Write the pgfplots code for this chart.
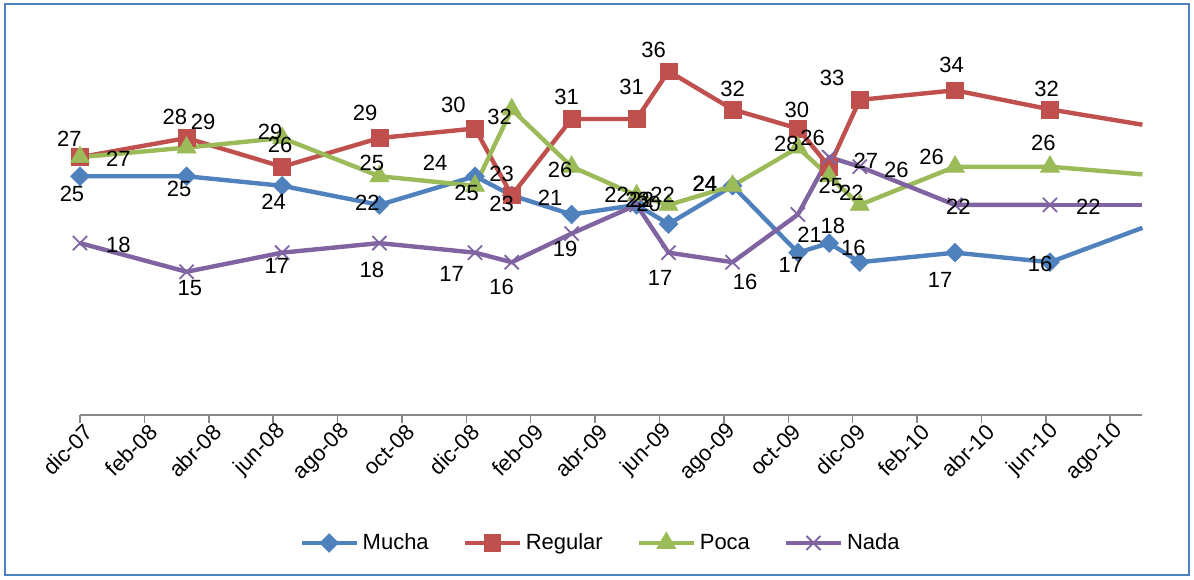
\documentclass[border=0pt]{standalone}
\usepackage{pgfplots}
\pgfplotsset{compat=1.18}
\usepackage{pgfplotstable}
\usepackage{fontspec}
\setmainfont{Liberation Sans}
\definecolor{cMucha}{HTML}{4F81BD}
\definecolor{cReg}{HTML}{C0504D}
\definecolor{cPoca}{HTML}{9BBB59}
\definecolor{cNada}{HTML}{8064A2}
\definecolor{cAxis}{HTML}{868686}
\newcommand\lblfont{\fontsize{11}{13}\selectfont}

% x = months since dic-07; dx, dy = label offset (pt)
\pgfplotstableread{
x y dx dy
0 25 -4 -9
3.31 25 -3.7 -6.3
6.28 24 -4.3 -8
9.30 22 -6 1
12.27 25 -4.2 -8.3
13.41 23 -5 10.8
15.27 21 -10.8 8.3
17.29 22 -10 5
18.28 20 -10 10
20.27 24 -14 1
22.30 17 -3.5 -6
23.27 18 1.8 8.5
24.22 16 -3.2 7.3
27.18 17 -7.5 -13.5
30.13 16 -5 -1
}\mucha
\pgfplotstableread{
x y dx dy
0 27 -5.3 9.2
3.31 29 8.3 8.3
6.28 26 -1 10.8
9.30 29 -7.2 12.8
12.27 30 -10.8 11.7
13.41 23 -5 -4.2
15.27 31 -2.5 10.8
17.29 31 -2.5 15.8
18.28 36 -7.5 10.8
20.27 32 0 10.3
22.30 30 -0.5 9.2
23.27 26 -8.3 14.2
24.22 33 -13.8 10.8
27.18 34 -1.7 12.5
30.13 32 -1.7 10
}\regular
\pgfplotstableread{
x y dx dy
0 27 19.2 -0.8
3.31 28 -5.8 15.3
6.28 29 -6 3
9.30 25 -3.8 6.7
12.27 24 -20 11.7
13.41 32 -6 -4
15.27 26 -5.8 -1.7
17.29 23 0.5 -2.5
18.28 22 -3 5
20.27 24 -13.7 1
22.30 28 -5.8 1.7
23.27 25 0.8 -5
24.22 22 -4.2 5.8
27.18 26 -11.7 5
30.13 26 -3.3 11.7
}\poca
\pgfplotstableread{
x y dx dy
0 18 19.2 -0.8
3.31 15 1.7 -8.3
6.28 17 -2.7 -6.7
9.30 18 -3.8 -13.3
12.27 17 -11.7 -10.8
13.41 16 -5 -12.5
15.27 19 -3.3 -7.5
17.29 22 2.5 2.5
18.28 17 -4.2 -12.5
20.27 16 6.3 -10
22.30 21 5.8 -10
23.27 27 18.3 -1.7
24.22 26 18.3 -1.7
27.18 22 1.7 -0.8
30.13 22 19.2 -0.8
}\nada

\begin{document}
\begin{tikzpicture}
\path (-40pt,-82pt) rectangle (557pt,207.5pt);
\begin{axis}[
  at={(0,0)}, anchor=south west,
  scale only axis, width=531.2pt, height=191pt,
  xmin=0, xmax=33, ymin=0, ymax=40,
  axis x line*=bottom, axis y line=none, ytick=\empty,
  x axis line style={cAxis, line width=0.75pt, -},
  xtick={0,2,...,32},
  xticklabels={dic-07,feb-08,abr-08,jun-08,ago-08,oct-08,dic-08,feb-09,abr-09,jun-09,ago-09,oct-09,dic-09,feb-10,abr-10,jun-10,ago-10},
  xtick style={cAxis, line width=0.75pt},
  tick align=outside, major tick length=4pt,
  xticklabel style={rotate=45, anchor=east, font=\lblfont, inner sep=1pt, xshift=2.5pt, yshift=-5pt},
  clip=false,
  /pgf/number format/assume math mode=true,
  legend style={at={(0.491,-0.335)}, anchor=center, draw=none, font=\lblfont,
    legend columns=4, /tikz/every even column/.append style={column sep=15pt}},
  legend image code/.code={\draw[mark repeat=2,mark phase=2] plot coordinates {(0cm,0cm) (0.48cm,0cm) (0.96cm,0cm)};},
  lbl/.style={draw=none, mark=none, forget plot, nodes near coords,
    visualization depends on={\thisrow{dx} \as \ldx},
    visualization depends on={\thisrow{dy} \as \ldy},
    every node near coord/.append style={anchor=center, xshift=\ldx pt, yshift=\ldy pt, text=black, font=\lblfont, inner sep=0pt}},
]
\addplot[cMucha, line width=2.2pt, mark=square*, mark size=3.3pt, mark options={rotate=45, line width=0.3pt}] table[x=x,y=y] {\mucha};
\addlegendentry{Mucha}
\addplot[cReg, line width=2.2pt, mark=square*, mark size=4.2pt, mark options={line width=0.3pt}] table[x=x,y=y] {\regular};
\addlegendentry{Regular}
\addplot[cPoca, line width=2.2pt, mark=triangle*, mark size=5.5pt, mark options={line width=0.3pt}] table[x=x,y=y] {\poca};
\addlegendentry{Poca}
\addplot[cNada, line width=2.2pt, mark=x, mark size=5pt, mark options={line width=0.9pt}] table[x=x,y=y] {\nada};
\addlegendentry{Nada}
% segments running to the edge of the plot
\addplot[cMucha, line width=2.2pt, forget plot] coordinates {(30.13,16) (33,19.6)};
\addplot[cReg, line width=2.2pt, forget plot] coordinates {(30.13,32) (33,30.4)};
\addplot[cPoca, line width=2.2pt, forget plot] coordinates {(30.13,26) (33,25.2)};
\addplot[cNada, line width=2.2pt, forget plot] coordinates {(30.13,22) (33,22)};
% data labels
\addplot[lbl] table[x=x,y=y] {\mucha};
\addplot[lbl] table[x=x,y=y] {\regular};
\addplot[lbl] table[x=x,y=y] {\poca};
\addplot[lbl] table[x=x,y=y] {\nada};
\end{axis}
\draw[cMucha, line width=1.3pt] (-37.5pt,-80pt) rectangle (554.5pt,205.5pt);
\end{tikzpicture}
\end{document}
